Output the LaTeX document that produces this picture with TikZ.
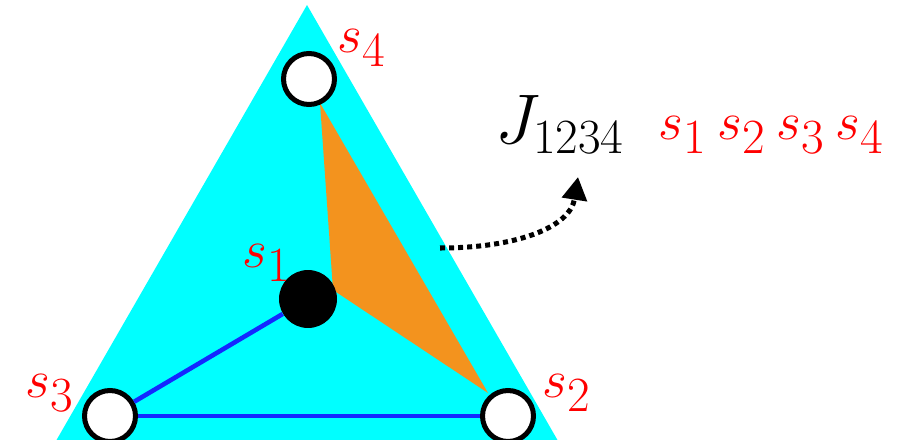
\RequirePackage{fix-cm}
\documentclass[tikz,border=0pt]{standalone}
\usetikzlibrary{arrows.meta,positioning}
\definecolor{lattice}{RGB}{0,255,255}
\definecolor{plaquette}{RGB}{243,147,30}
\definecolor{bond}{RGB}{20,40,255}
\definecolor{spinred}{RGB}{255,0,0}
\newcommand{\spinsub}[1]{s_{\mbox{\fontsize{28}{30}\selectfont #1}}}
\tikzset{
  site/.style={circle, draw=black, line width=2.85pt, fill=white,
               inner sep=0pt, minimum size=1.02cm},
  centre/.style={circle, fill=black, inner sep=0pt, minimum size=1.16cm},
  spinlab/.style={text=spinred, inner sep=0pt, anchor=base west,
               font=\fontsize{30.5}{36}\selectfont},
  coupling/.style={inner sep=0pt, anchor=base west, font=\fontsize{40}{46}\selectfont},
  bondline/.style={bond, line width=2.6pt},
  flow/.style={-{Triangle[length=13pt,width=14pt]}, line width=2.85pt,
               dash pattern=on 2.85pt off 2.3pt},
}
\begin{document}
\begin{tikzpicture}[x=0.02cm, y=-0.02cm]
  \useasboundingbox (0,0) rectangle (908,439);
  \clip (0,0) rectangle (908,439);
  % lattice triangle and plaquette
  \fill[lattice] (307,5) -- (45,460) -- (569,460) -- cycle;
  \fill[plaquette] (320,103) -- (333,290) -- (488,393) -- cycle;
  % sites
  \node[site] (s4) at (309,79) {};
  \node[centre] (s1) at (308,299) {};
  \node[site] (s3) at (110,416) {};
  \node[site] (s2) at (508,416) {};
  \draw[bondline] (s1) -- (s3);
  \draw[bondline] (s3) -- (s2);
  % spin labels
  \node[spinlab] (l4) at (337,52) {$\spinsub{4}$};
  \node[spinlab] (l1) at (242,267) {$\spinsub{1}$};
  \node[spinlab] (l3) at (25,397) {$\spinsub{3}$};
  \node[spinlab] (l2) at (542,397) {$\spinsub{2}$};
  % four-spin term
  \node[coupling] (jlab) at (495,143) {$J_{1234}$};
  \node[spinlab] (jspins) at (658,139)
    {$\spinsub{1}\hskip0.22cm\spinsub{2}\hskip0.22cm\spinsub{3}\hskip0.22cm\spinsub{4}$};
  \coordinate (jtail) at (440,248);
  \coordinate (jhead) at (578,177);
  \draw[flow] (jtail) .. controls (515,248) and (570,228) .. (jhead);
\end{tikzpicture}
\end{document}
